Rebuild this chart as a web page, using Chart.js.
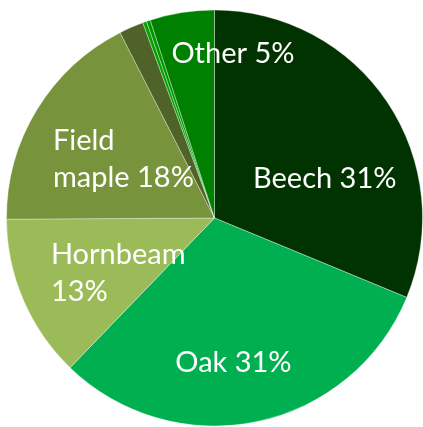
<!DOCTYPE html>
<html>
<head>
<meta charset="utf-8">
<script src="https://cdn.jsdelivr.net/npm/chart.js@4"></script>
<style>
  html, body { margin: 0; padding: 0; background: #ffffff; }
  #wrap { width: 423px; height: 427px; }
</style>
</head>
<body>
<div id="wrap"><canvas id="c" width="423" height="427"></canvas></div>
<script>
// ---- data ----
const categories = ["Beech", "Oak", "Hornbeam", "Field maple", "Minor species A", "Minor species B", "Minor species C", "Other"];
const shares = [31.25, 31.0, 12.7, 17.6, 1.9, 0.3, 0.3, 5.0];
const labelLines = [["Beech 31%"], ["Oak 31%"], ["Hornbeam", "13%"], ["Field", "maple 18%"], [], [], [], ["Other 5%"]];

// ---- style ----
const sliceColors = ["#003300", "#00B050", "#9BBB59", "#77933C", "#4F6228", "#00A300", "#009600", "#008000"];
// label anchor offsets (px at radius 208.5) relative to pie centre; y is first baseline
const labelLayout = [
  { dx: 110.5, dy: -30, align: "center" },
  { dx: 19, dy: 154, align: "center" },
  { dx: -164, dy: 46, align: "left" },
  { dx: -162, dy: -68, align: "left" },
  null, null, null,
  { dx: 18.5, dy: -155, align: "center" }
];

const sliceLabels = {
  id: "sliceLabels",
  afterDatasetsDraw(chart) {
    const ctx = chart.ctx;
    const meta = chart.getDatasetMeta(0);
    ctx.save();
    ctx.fillStyle = "#ffffff";
    ctx.font = "29px Lato";
    ctx.textBaseline = "alphabetic";
    meta.data.forEach((arc, i) => {
      const lay = labelLayout[i];
      const lines = labelLines[i];
      if (!lay || !lines.length) return;
      const s = arc.outerRadius / 208.5;
      ctx.textAlign = lay.align;
      lines.forEach((t, k) => {
        ctx.fillText(t, arc.x + lay.dx * s, arc.y + (lay.dy + k * 37) * s);
      });
    });
    ctx.restore();
  }
};

new Chart(document.getElementById("c"), {
  type: "pie",
  data: {
    labels: categories,
    datasets: [{
      data: shares,
      backgroundColor: sliceColors,
      borderColor: "rgba(255,255,255,0.35)",
      borderWidth: 1
    }]
  },
  options: {
    responsive: false,
    animation: false,
    layout: { padding: { left: 6, right: 0, top: 9, bottom: 0 } },
    plugins: { legend: { display: false }, tooltip: { enabled: false } }
  },
  plugins: [sliceLabels]
});
</script>
</body>
</html>
